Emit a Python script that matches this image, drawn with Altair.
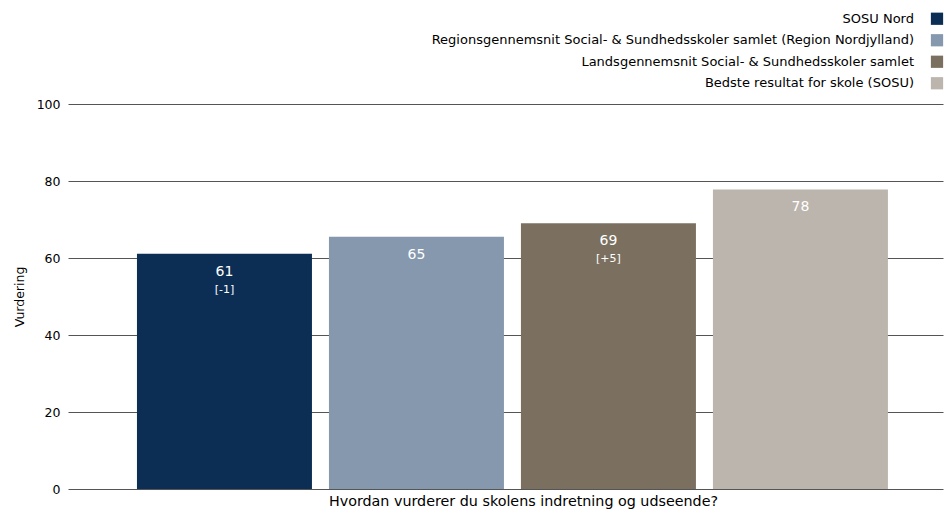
import altair as alt
import pandas as pd

series = [
    "SOSU Nord",
    "Regionsgennemsnit Social- & Sundhedsskoler samlet (Region Nordjylland)",
    "Landsgennemsnit Social- & Sundhedsskoler samlet",
    "Bedste resultat for skole (SOSU)",
]
values = [61.1, 65.5, 69.0, 77.8]
value_labels = ["61", "65", "69", "78"]
diff_labels = ["[-1]", "", "[+5]", ""]
colors = ["#0c2e55", "#8598ae", "#7b7060", "#bcb5ae"]
question = "Hvordan vurderer du skolens indretning og udseende?"
y_ticks = [0, 20, 40, 60, 80, 100]

FONT = "DejaVu Sans"

df = pd.DataFrame({
    "serie": series,
    "value": values,
    "label": value_labels,
    "diff": diff_labels,
})

color_scale = alt.Scale(domain=series, range=colors)
W = 875

x_enc = alt.X(
    "serie:N",
    sort=series,
    scale=alt.Scale(paddingInner=0.0885, paddingOuter=0.323, align=0.556),
    axis=alt.Axis(labels=False, ticks=False, domain=False, title=question,
                  titleFont=FONT, titleFontSize=14.3, titleFontWeight="normal",
                  titleColor="#000000", titlePadding=5, titleX=455, titleAlign="center"),
)
y_enc = alt.Y(
    "value:Q",
    scale=alt.Scale(domain=[0, 100]),
    axis=alt.Axis(values=y_ticks, title="Vurdering", grid=True, gridColor="#555555",
                  gridWidth=1, domain=False, ticks=False, labelFont=FONT, labelFontSize=12.5,
                  labelColor="#000000", labelPadding=8, titleFont=FONT, titleFontSize=12.5,
                  titleFontWeight="normal", titleColor="#000000", titlePadding=10),
)

bars = alt.Chart(df).mark_bar().encode(
    x=x_enc,
    y=y_enc,
    color=alt.Color("serie:N", scale=color_scale, legend=None),
)
lab = alt.Chart(df).mark_text(baseline="middle", dy=18, color="white", font=FONT, fontSize=14).encode(
    x=alt.X("serie:N", sort=series),
    y="value:Q",
    text="label:N",
)
dlab = alt.Chart(df).mark_text(baseline="middle", dy=36, color="white", font=FONT, fontSize=11).encode(
    x=alt.X("serie:N", sort=series),
    y="value:Q",
    text="diff:N",
)
main = alt.layer(bars, lab, dlab).properties(width=W, height=385)

leg_y = alt.Y("serie:N", sort=series, axis=None, scale=alt.Scale(paddingInner=0, paddingOuter=0.048))
leg_text = alt.Chart(df).mark_text(align="right", baseline="middle", font=FONT, fontSize=13,
                                   color="#000000").encode(
    x=alt.value(W - 29),
    y=leg_y,
    text="serie:N",
)
leg_sym = alt.Chart(df).mark_square(size=150, opacity=1).encode(
    x=alt.value(W - 6),
    y=leg_y,
    color=alt.Color("serie:N", scale=color_scale, legend=None),
)
legend = alt.layer(leg_text, leg_sym).properties(width=W, height=86)

chart = alt.vconcat(legend, main, spacing=4).configure_view(stroke=None).properties(
    padding={"left": 5, "top": 0, "right": 0, "bottom": 0}
)

chart.save("out.html", embed_options={"renderer": "svg", "actions": False})
